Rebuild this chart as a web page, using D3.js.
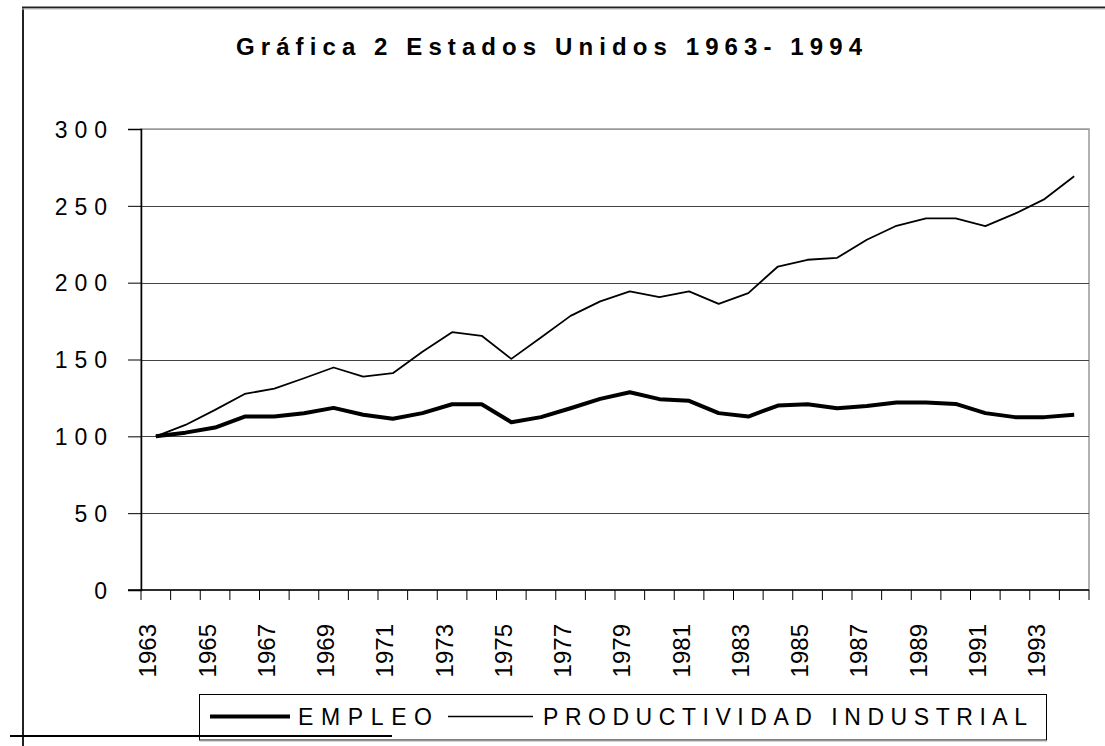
<!DOCTYPE html>
<html><head><meta charset="utf-8">
<script src="https://cdn.jsdelivr.net/npm/d3@7/dist/d3.min.js"></script>
<style>body{margin:0;background:#fff;overflow:hidden}</style>
</head><body>
<svg id="c" width="1105" height="746"></svg>
<script>
// ---- data ----
const years = [1963,1964,1965,1966,1967,1968,1969,1970,1971,1972,1973,1974,1975,1976,1977,1978,
               1979,1980,1981,1982,1983,1984,1985,1986,1987,1988,1989,1990,1991,1992,1993,1994];
const empleo = [100,102.4,105.7,112.9,112.9,115.0,118.5,114.0,111.4,115.1,120.9,120.9,109.2,112.5,118.3,124.4,
                128.7,124.2,123.1,115.1,112.9,120.0,120.9,118.3,119.8,122.0,122.0,121.1,115.1,112.5,112.5,114.0];
const productividad = [100,107.4,117.2,127.6,131.1,137.8,144.8,138.9,141.1,155.0,167.8,165.4,150.4,164.3,178.4,187.8,
                194.3,190.6,194.3,186.2,193.2,210.5,214.9,216.2,227.9,237.0,241.8,241.8,236.8,244.9,254.4,269.2];
const yTickValues = [0,50,100,150,200,250,300];
const xTickLabels = ["1963","1965","1967","1969","1971","1973","1975","1977","1979","1981","1983","1985","1987","1989","1991","1993"];
const titleText = "Gráfica 2 Estados Unidos 1963- 1994";
const seriesNames = ["EMPLEO","PRODUCTIVIDAD INDUSTRIAL"];

// ---- drawing ----
const svg = d3.select("#c");
const FONT = "'Liberation Sans', Arial, sans-serif";
const plot = {l:141, r:1089, t:129, b:590};

const x = d3.scaleBand().domain(years).range([plot.l, plot.r]).padding(0);
const y = d3.scaleLinear().domain([0,300]).range([plot.b, plot.t]);
const cx = yr => x(yr) + x.bandwidth()/2;

// outer frame fragments
svg.append("line").attr("x1",23).attr("x2",23).attr("y1",7).attr("y2",746).attr("stroke","#222").attr("stroke-width",2);
svg.append("line").attr("x1",22).attr("x2",1105).attr("y1",7.5).attr("y2",7.5).attr("stroke","#222").attr("stroke-width",2);
svg.append("line").attr("x1",22).attr("x2",1105).attr("y1",9).attr("y2",9).attr("stroke","#bbb").attr("stroke-width",1);
svg.append("line").attr("x1",10).attr("x2",392).attr("y1",736).attr("y2",736).attr("stroke","#000").attr("stroke-width",2);

// title
svg.append("text").attr("x",236).attr("y",55)
  .attr("font-family",FONT).attr("font-weight","bold").attr("font-size",24)
  .attr("textLength",626).attr("lengthAdjust","spacing")
  .text(titleText);

// plot area border (gray)
svg.append("rect").attr("x",plot.l).attr("y",plot.t).attr("width",plot.r-plot.l).attr("height",plot.b-plot.t)
  .attr("fill","none").attr("stroke","#999").attr("stroke-width",1.5);

// gridlines
svg.append("g").selectAll("line").data(yTickValues.filter(v=>v>0)).join("line")
  .attr("x1",plot.l).attr("x2",plot.r).attr("y1",d=>Math.round(y(d))+0.5).attr("y2",d=>Math.round(y(d))+0.5)
  .attr("stroke", d=> d===300 ? "#999" : "#444").attr("stroke-width",1);

// y axis
const yAxis = svg.append("g").attr("transform",`translate(${plot.l},0)`)
  .call(d3.axisLeft(y).tickValues(yTickValues).tickSize(13).tickPadding(0));
yAxis.select(".domain").attr("stroke","#000").attr("stroke-width",1.5);
yAxis.selectAll(".tick line").attr("stroke","#000").attr("stroke-width",1);
yAxis.selectAll(".tick text").attr("font-family",FONT).attr("font-size",23)
  .attr("letter-spacing","7px").attr("x",-27).attr("dy","0.36em").attr("fill","#000");

// x axis: ticks at band boundaries
const xAxisG = svg.append("g");
xAxisG.append("line").attr("x1",plot.l-13).attr("x2",plot.r).attr("y1",plot.b).attr("y2",plot.b)
  .attr("stroke","#000").attr("stroke-width",1.5);
const edges = years.map(yr => x(yr)).concat([x(years[years.length-1]) + x.bandwidth()]);
xAxisG.selectAll("line.tk").data(edges).join("line").attr("class","tk")
  .attr("x1",d=>d).attr("x2",d=>d).attr("y1",plot.b).attr("y2",plot.b+10)
  .attr("stroke","#000").attr("stroke-width",1);
xAxisG.selectAll("text").data(xTickLabels).join("text")
  .attr("transform",d=>`translate(${cx(+d)+0.5},624) rotate(-90)`)
  .attr("text-anchor","end").attr("font-family",FONT).attr("font-size",24)
  .text(d=>d);

// series lines
const line = d3.line().x((d,i)=>cx(years[i])).y(d=>y(d));
svg.append("path").datum(productividad).attr("d",line).attr("fill","none")
  .attr("stroke","#000").attr("stroke-width",1.8).attr("stroke-linejoin","round");
svg.append("path").datum(empleo).attr("d",line).attr("fill","none")
  .attr("stroke","#000").attr("stroke-width",4).attr("stroke-linejoin","round");

// legend
const lg = svg.append("g");
lg.append("rect").attr("x",199.5).attr("y",694.5).attr("width",847).attr("height",45.5)
  .attr("fill","none").attr("stroke","#000").attr("stroke-width",1);
lg.append("line").attr("x1",199.5).attr("x2",1047).attr("y1",741).attr("y2",741).attr("stroke","#aaa").attr("stroke-width",1);
lg.append("line").attr("x1",210).attr("x2",290).attr("y1",716.5).attr("y2",716.5).attr("stroke","#000").attr("stroke-width",4);
lg.append("line").attr("x1",448).attr("x2",533).attr("y1",716.5).attr("y2",716.5).attr("stroke","#000").attr("stroke-width",1.5);
lg.append("text").attr("x",298).attr("y",725).attr("font-family",FONT).attr("font-size",23)
  .attr("textLength",134).attr("lengthAdjust","spacing").text(seriesNames[0]);
lg.append("text").attr("x",543).attr("y",725).attr("font-family",FONT).attr("font-size",23)
  .attr("textLength",484).attr("lengthAdjust","spacing").text(seriesNames[1]);
</script>
</body></html>
